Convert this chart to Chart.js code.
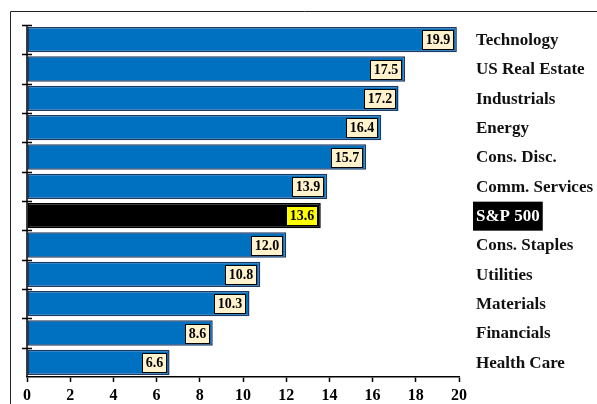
<!DOCTYPE html>
<html>
<head>
<meta charset="utf-8">
<script src="https://cdn.jsdelivr.net/npm/chart.js@4"></script>
<style>
  html, body { margin: 0; padding: 0; background: #fff; }
  #wrap { width: 597px; height: 404px; }
</style>
</head>
<body>
<div id="wrap"><canvas id="chart" width="597" height="404"></canvas></div>
<script>
// sectors, top to bottom
const sectors = ['Technology', 'US Real Estate', 'Industrials', 'Energy', 'Cons. Disc.',
    'Comm. Services', 'S&P 500', 'Cons. Staples', 'Utilities', 'Materials', 'Financials', 'Health Care'];
const values = [19.9, 17.5, 17.2, 16.4, 15.7, 13.9, 13.6, 12.0, 10.8, 10.3, 8.6, 6.6];
const highlight = 'S&P 500';
const xTicks = [0, 2, 4, 6, 8, 10, 12, 14, 16, 18, 20];

const serif = '"Liberation Serif", "Times New Roman", serif';
const isHi = (i) => sectors[i] === highlight;

// outer frame (left + top only visible)
const framePlugin = {
    id: 'frame',
    beforeDraw(chart) {
        const ctx = chart.ctx;
        ctx.save();
        ctx.strokeStyle = '#222';
        ctx.lineWidth = 1;
        ctx.beginPath();
        ctx.moveTo(10.5, 410);
        ctx.lineTo(10.5, 11.5);
        ctx.lineTo(600, 11.5);
        ctx.stroke();
        ctx.restore();
    }
};

// crossing ticks on the category axis
const yTickPlugin = {
    id: 'yTicks',
    afterDraw(chart) {
        const y = chart.scales.y;
        const x0 = chart.chartArea.left;
        const ctx = chart.ctx;
        const step = (y.getPixelForValue(1) - y.getPixelForValue(0));
        ctx.save();
        ctx.strokeStyle = '#000';
        ctx.lineWidth = 1.5;
        ctx.beginPath();
        ctx.moveTo(x0, chart.chartArea.top);
        ctx.lineTo(x0, chart.chartArea.bottom);
        for (let i = 0; i < sectors.length; i++) {
            const py = Math.round(y.getPixelForValue(i) - step / 2) + 0.5;
            ctx.moveTo(x0 - 5, py);
            ctx.lineTo(x0 + 5, py);
        }
        ctx.stroke();
        ctx.restore();
    }
};

// value boxes at the bar ends + sector names on the right
const labelPlugin = {
    id: 'labels',
    afterDatasetsDraw(chart) {
        const ctx = chart.ctx;
        const meta = chart.getDatasetMeta(0);
        ctx.save();
        ctx.textBaseline = 'middle';
        meta.data.forEach((bar, i) => {
            const txt = values[i].toFixed(1);
            ctx.font = 'bold 14px ' + serif;
            const w = Math.round(ctx.measureText(txt).width) + 6;
            const h = 19;
            const right = bar.x - 4;
            const top = Math.round(bar.y - h / 2) + 0.5;
            const left = Math.round(right - w) + 0.5;
            ctx.fillStyle = isHi(i) ? '#ffff00' : '#fff2cc';
            ctx.fillRect(left, top, w, h);
            ctx.strokeStyle = '#000';
            ctx.lineWidth = 1;
            ctx.strokeRect(left, top, w, h);
            ctx.fillStyle = '#000';
            ctx.textAlign = 'center';
            ctx.fillText(txt, left + w / 2, bar.y + 1);

            // sector name
            ctx.font = 'bold 17px ' + serif;
            ctx.textAlign = 'left';
            const nx = 476;
            if (isHi(i)) {
                const nw = ctx.measureText(sectors[i]).width;
                ctx.fillStyle = '#000';
                ctx.fillRect(nx - 3, bar.y - 14, nw + 6, 29);
                ctx.fillStyle = '#fff';
            } else {
                ctx.fillStyle = '#111';
            }
            ctx.fillText(sectors[i], nx, bar.y + 1);
        });
        ctx.restore();
    }
};

new Chart(document.getElementById('chart'), {
    type: 'bar',
    data: {
        labels: sectors,
        datasets: [{
            data: values,
            backgroundColor: sectors.map((s, i) => isHi(i) ? '#000000' : '#0070c0'),
            borderColor: sectors.map((s, i) => isHi(i) ? '#000000' : '#1f3864'),
            borderWidth: 1.5,
            borderSkipped: false,
            barPercentage: 0.9,
            categoryPercentage: 0.96
        }]
    },
    options: {
        indexAxis: 'y',
        responsive: false,
        animation: false,
        layout: { padding: { top: 25, right: 138, left: 0, bottom: 0 } },
        plugins: { legend: { display: false }, tooltip: { enabled: false } },
        scales: {
            x: {
                min: 0,
                max: 20,
                afterBuildTicks: (scale) => { scale.ticks = xTicks.map(v => ({ value: v })); },
                afterFit: (scale) => { scale.height = 27; },
                grid: { drawOnChartArea: false, color: '#000', tickLength: 5, tickWidth: 1.5 },
                border: { color: '#000', width: 1.5 },
                ticks: {
                    color: '#000',
                    padding: 4,
                    maxRotation: 0,
                    font: { family: serif, size: 16, weight: 'bold' }
                }
            },
            y: {
                afterFit: (scale) => { scale.width = 27; },
                grid: { display: false },
                border: { display: false },
                ticks: { display: false }
            }
        }
    },
    plugins: [framePlugin, yTickPlugin, labelPlugin]
});
</script>
</body>
</html>
